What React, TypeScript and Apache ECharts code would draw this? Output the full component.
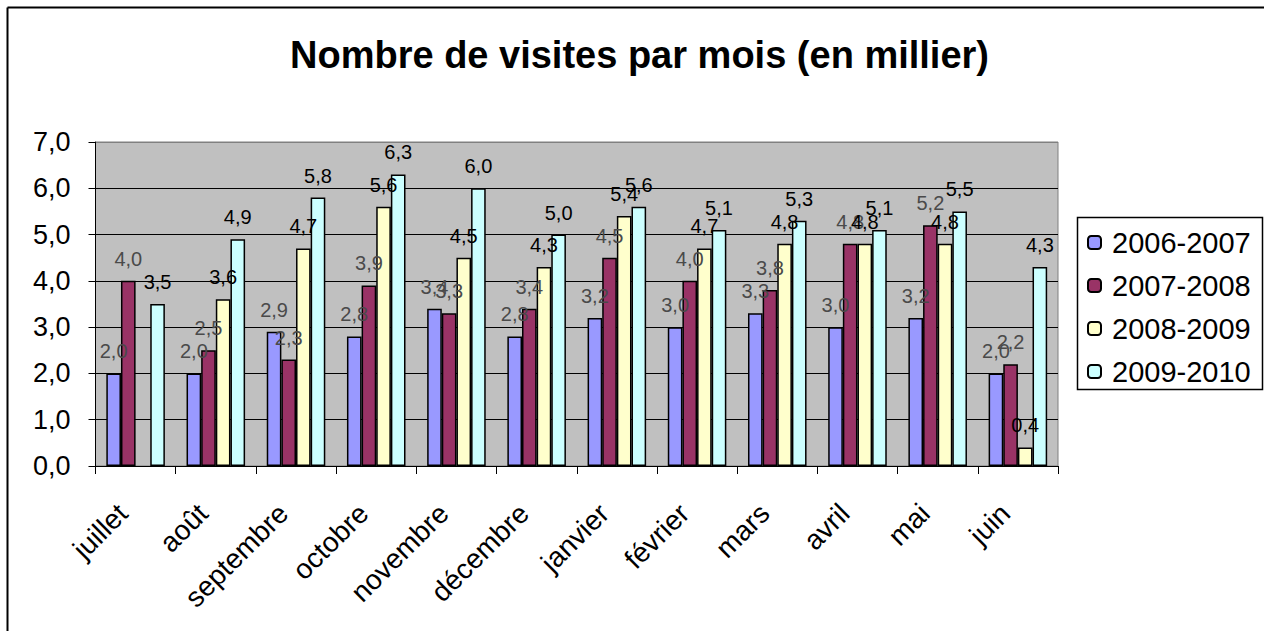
import React, { useEffect, useRef } from "react";
import * as echarts from "echarts";

const months = ["juillet", "août", "septembre", "octobre", "novembre", "décembre", "janvier", "février", "mars", "avril", "mai", "juin"];
const seriesNames = ["2006-2007", "2007-2008", "2008-2009", "2009-2010"];
const s0607 = [2.0, 2.0, 2.9, 2.8, 3.4, 2.8, 3.2, 3.0, 3.3, 3.0, 3.2, 2.0];
const s0708 = [4.0, 2.5, 2.3, 3.9, 3.3, 3.4, 4.5, 4.0, 3.8, 4.8, 5.2, 2.2];
const s0809 = [null, 3.6, 4.7, 5.6, 4.5, 4.3, 5.4, 4.7, 4.8, 4.8, 4.8, 0.4];
const s0910 = [3.5, 4.9, 5.8, 6.3, 6.0, 5.0, 5.6, 5.1, 5.3, 5.1, 5.5, 4.3];
const seriesColors = ["#9999ff", "#993366", "#ffffcc", "#ccffff"];
const labelColors = ["#4a4a4a", "#4a4a4a", "#000000", "#000000"];

const FONT = "'Liberation Sans', Arial, sans-serif";
const fmt = (v: number) => v.toFixed(1).replace(".", ",");

export default function App() {
  const ref = useRef<HTMLDivElement>(null);
  useEffect(() => {
    document.body.style.margin = "0";
    const chart = echarts.init(ref.current!, null, { renderer: "svg" });
    const data = [s0607, s0708, s0809, s0910];
    chart.setOption({
      animation: false,
      backgroundColor: "#ffffff",
      title: {
        text: "Nombre de visites par mois (en millier)",
        left: 290,
        top: 36,
        padding: 0,
        textStyle: { fontFamily: FONT, fontSize: 38, fontWeight: "bold", color: "#000" },
      },
      graphic: [
        { type: "line", shape: { x1: 7.5, y1: 7.5, x2: 1264, y2: 7.5 }, style: { stroke: "#000", lineWidth: 2 } },
        { type: "line", shape: { x1: 7.5, y1: 7.5, x2: 7.5, y2: 631 }, style: { stroke: "#000", lineWidth: 2 } },
        { type: "rect", shape: { x: 1077.5, y: 217.5, width: 185, height: 172 }, style: { fill: "#fff", stroke: "#000", lineWidth: 1.5 }, z: 0 },
      ],
      legend: {
        orient: "vertical",
        left: 1087,
        top: 228,
        padding: 0,
        itemGap: 14,
        itemWidth: 13,
        itemHeight: 13,
        z: 10,
        textStyle: { fontFamily: FONT, fontSize: 29, color: "#000", padding: [0, 0, 0, 6] },
        data: seriesNames,
      },
      grid: {
        left: 95.5,
        right: 206,
        top: 142,
        bottom: 165,
        show: true,
        backgroundColor: "#c0c0c0",
        borderColor: "#808080",
        borderWidth: 1,
      },
      xAxis: {
        type: "category",
        data: months,
        boundaryGap: true,
        axisLine: { lineStyle: { color: "#000", width: 1 } },
        axisTick: { show: true, length: 8, lineStyle: { color: "#000" } },
        axisLabel: {
          rotate: 45,
          fontFamily: FONT,
          fontSize: 28,
          color: "#000",
          margin: 30,
          interval: 0,
          padding: [0, 18, 0, 0],
        },
        splitLine: { show: false },
      },
      yAxis: {
        type: "value",
        min: 0,
        max: 7,
        interval: 1,
        axisLine: { show: true, lineStyle: { color: "#000", width: 1 } },
        axisTick: { show: true, length: 7, lineStyle: { color: "#000" } },
        axisLabel: { fontFamily: FONT, fontSize: 27, color: "#000", margin: 25, formatter: (v: number) => fmt(v) },
        splitLine: { show: true, lineStyle: { color: ["#000", "#000", "#000", "#000", "#000", "#000", "#000", "#808080"], width: 1 } },
      },
      series: seriesNames.map((name, i) => ({
        name,
        type: "bar",
        data: data[i],
        barGap: "0%",
        barCategoryGap: "27%",
        itemStyle: { color: seriesColors[i], borderColor: "#000", borderWidth: 1.5 },
        label: {
          show: true,
          position: "top",
          distance: 12,
          fontFamily: FONT,
          fontSize: 20,
          color: labelColors[i],
          formatter: (p: any) => (p.value == null ? "" : fmt(p.value)),
        },
      })),
    });
    return () => chart.dispose();
  }, []);
  return <div ref={ref} style={{ width: 1264, height: 631 }} />;
}
